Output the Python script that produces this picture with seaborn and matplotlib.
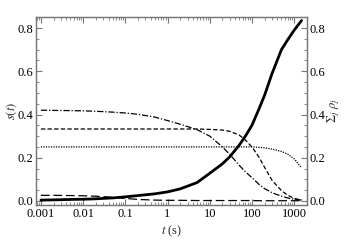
import numpy as np
import pandas as pd
import matplotlib
matplotlib.use("Agg")
import matplotlib.pyplot as plt
import seaborn as sns
from matplotlib.ticker import LogLocator, MultipleLocator, FixedLocator, NullFormatter

##### DATA #####
t = [0.001, 0.002, 0.005, 0.01, 0.02, 0.05, 0.1, 0.2, 0.5, 1, 2, 5, 10,
     20, 30, 50, 70, 100, 150, 200, 300, 500, 700, 1000, 1500]
s_total = [0.004, 0.005, 0.007, 0.008, 0.010, 0.014, 0.019, 0.025, 0.033, 0.042, 0.056, 0.085, 0.128,
           0.172, 0.205, 0.258, 0.30, 0.35, 0.43, 0.49, 0.59, 0.70, 0.745, 0.79, 0.835]
rho_dashdot = [0.42, 0.419, 0.418, 0.417, 0.415, 0.411, 0.407, 0.401, 0.388, 0.372, 0.355, 0.33, 0.30,
               0.25, 0.215, 0.165, 0.135, 0.108, 0.075, 0.057, 0.038, 0.022, 0.014, 0.008, 0.004]
rho_dashed = [0.333, 0.333, 0.333, 0.333, 0.333, 0.333, 0.333, 0.333, 0.333, 0.333, 0.333, 0.333, 0.331,
              0.328, 0.322, 0.305, 0.282, 0.25, 0.20, 0.155, 0.095, 0.048, 0.027, 0.012, 0.004]
rho_dotted = [0.25, 0.25, 0.25, 0.25, 0.25, 0.25, 0.25, 0.25, 0.25, 0.25, 0.25, 0.25, 0.25,
              0.25, 0.25, 0.25, 0.25, 0.25, 0.248, 0.246, 0.24, 0.229, 0.217, 0.195, 0.153]
rho_longdash = [0.026, 0.026, 0.025, 0.024, 0.022, 0.017, 0.012, 0.007, 0.004, 0.003, 0.003, 0.002, 0.002,
                0.002, 0.002, 0.002, 0.002, 0.002, 0.001, 0.001, 0.001, 0.001, 0.001, 0.001, 0.001]

df = pd.DataFrame({"t": t, "s": s_total, "r1": rho_dashdot, "r2": rho_dashed,
                   "r3": rho_dotted, "r4": rho_longdash})

##### STYLE #####
sns.set_style("ticks")
plt.rcParams['font.family'] = ['Liberation Serif', 'DejaVu Serif']
plt.rcParams['mathtext.fontset'] = 'stix'
plt.rcParams['font.size'] = 9

fig = plt.figure(figsize=(3.44, 2.40), dpi=100)
ax = fig.add_axes([0.105, 0.146, 0.787, 0.783])

# thin rho curves, each with its own dash pattern
for col, dash in [("r1", [5, 1.5, 1, 1.5]), ("r2", [3.5, 1.8]), ("r3", [1, 1]), ("r4", [7, 3])]:
    sns.lineplot(data=df, x="t", y=col, ax=ax, color="black", lw=0.9)
    ax.lines[-1].set_dashes(dash)

# thick solid s(t)
sns.lineplot(data=df, x="t", y="s", ax=ax, color="black", lw=2.0)

ax.set_xscale("log")
ax.set_xlim(0.00077, 2000)
ax.set_ylim(-0.0185, 0.851)
ax.set_xticks([0.001, 0.01, 0.1, 1, 10, 100, 1000])
ax.set_xticklabels(["0.001", "0.01", "0.1", "1", "10", "100", "1000"])
ax.xaxis.set_minor_locator(LogLocator(base=10, subs=np.arange(2, 10), numticks=20))
ax.xaxis.set_minor_formatter(NullFormatter())
ax.yaxis.set_major_locator(FixedLocator([0.0, 0.2, 0.4, 0.6, 0.8]))
ax.yaxis.set_major_formatter(plt.FuncFormatter(lambda v, p: f"{v:.1f}"))
ax.yaxis.set_minor_locator(MultipleLocator(0.05))

ax.set_xlabel("$t$ (s)", labelpad=3)
ax.set_ylabel("$s(t)$", va="center")
ax.yaxis.set_label_coords(-0.092, 0.5)

ax2 = ax.twinx()
ax2.set_ylim(ax.get_ylim())
ax2.yaxis.set_major_locator(FixedLocator([0.0, 0.2, 0.4, 0.6, 0.8]))
ax2.yaxis.set_major_formatter(plt.FuncFormatter(lambda v, p: f"{v:.1f}"))
ax2.yaxis.set_minor_locator(MultipleLocator(0.05))
ax2.set_ylabel(r"$\Sigma_j\ \rho_j$", va="center")
ax2.yaxis.set_label_coords(1.10, 0.5)

for a in (ax, ax2):
    for sp in a.spines.values():
        sp.set_color("#777777")
        sp.set_linewidth(0.9)
ax.tick_params(which="both", direction="in", top=True, right=False, colors="#777777", labelcolor="black", labelsize=9, pad=2)
ax.tick_params(which="major", length=4, width=0.8)
ax.tick_params(which="minor", length=2, width=0.6)
ax2.tick_params(which="both", direction="in", colors="#777777", labelcolor="black", labelsize=9, pad=2)
ax2.tick_params(which="major", length=4, width=0.8)
ax2.tick_params(which="minor", length=2, width=0.6)

plt.savefig("out.png", dpi=100)
